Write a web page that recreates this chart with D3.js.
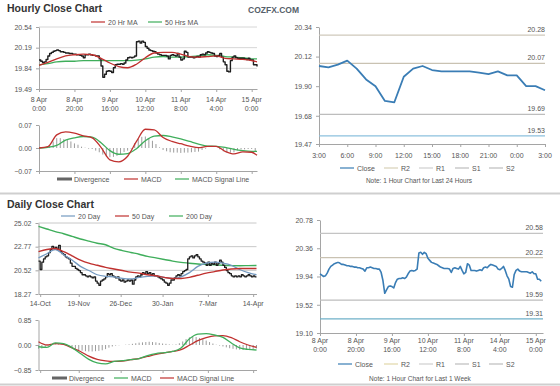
<!DOCTYPE html>
<html>
<head>
<meta charset="utf-8">
<script src="https://cdn.jsdelivr.net/npm/d3@7"></script>
<style>
  body { margin: 0; background: #fff; }
  svg text { font-family: "Liberation Sans", Arial, sans-serif; }
</style>
</head>
<body>
<svg id="chart" width="560" height="386"></svg>
<script>
// ---- hourly data (last week, trading hours from 8 Apr 0:00) ----
const hourlyClose = [
  19.98, 19.96, 19.94, 19.95, 19.99, 20.05, 20.09, 20.11, 20.13, 20.14,
  20.15, 20.14, 20.12, 20.12, 20.11, 20.10, 20.10, 20.09, 20.09, 20.08,
  20.08, 20.07, 20.07, 20.06, 20.05, 20.02, 20.07, 20.07, 20.08, 20.07,
  20.06, 20.06, 20.05, 20.05, 20.00, 19.88, 19.69, 19.74, 19.79, 19.80,
  19.79, 19.77, 19.85, 19.90, 19.91, 19.91, 19.92, 19.91, 19.93, 19.98,
  20.02, 20.03, 20.02, 20.03, 20.05, 20.29, 20.30, 20.27, 20.30, 20.28,
  20.21, 20.18, 20.15, 20.14, 20.13, 20.12, 20.10, 20.08, 20.07, 20.06,
  20.06, 20.06, 20.05, 20.00, 20.06, 20.07, 20.06, 20.05, 20.09, 20.03,
  19.98, 20.00, 20.13, 20.11, 20.03, 20.03, 20.03, 20.02, 20.03, 20.04,
  20.03, 20.07, 20.08, 20.07, 20.10, 20.12, 20.11, 20.10, 20.09, 20.05,
  20.04, 20.06, 20.09, 20.03, 19.95, 19.90, 19.79, 19.78, 19.97, 20.03,
  20.05, 20.02, 20.01, 20.01, 20.01, 20.01, 20.00, 19.99, 20.01, 19.98,
  19.98, 19.90, 19.90, 19.87
];
const hourTicks = [0, 20, 40, 60, 80, 100, 120];
const hourTickDay = ["8 Apr", "8 Apr", "9 Apr", "10 Apr", "11 Apr", "14 Apr", "15 Apr"];
const hourTickTime = ["0:00", "20:00", "16:00", "12:00", "8:00", "4:00", "0:00"];

const maHours = [0, 5, 10, 15, 20, 25, 30, 35, 40, 45, 50, 55, 60, 65, 70, 75, 80, 85, 90, 95, 100, 105, 110, 115, 120, 123];
const ma20Hr = [19.89, 19.94, 20.00, 20.05, 20.07, 20.08, 20.07, 20.01, 19.93, 19.87, 19.85, 19.91, 20.02,
  20.10, 20.11, 20.11, 20.08, 20.04, 20.03, 20.04, 20.05, 20.01, 20.00, 19.99, 19.97, 19.95];
const ma50Hr = [19.90, 19.92, 19.95, 19.96, 19.96, 19.97, 19.97, 19.97, 19.97, 19.97, 19.97, 19.98, 20.00,
  20.03, 20.04, 20.03, 20.03, 20.04, 20.05, 20.07, 20.06, 20.04, 20.03, 20.02, 20.00, 20.00];
const macdHr = [0, 0.004, 0.04, 0.049, 0.045, 0.037, 0.031, 0.002, -0.036, -0.042, -0.025, 0.02, 0.057,
  0.055, 0.032, 0.02, 0.013, 0.006, 0.001, 0.005, 0.005, -0.01, -0.018, -0.012, -0.013, -0.022];
const signalHr = [0, 0.002, 0.008, 0.024, 0.031, 0.035, 0.033, 0.016, -0.008, -0.019, -0.017, -0.002, 0.022,
  0.036, 0.038, 0.034, 0.028, 0.02, 0.012, 0.006, 0.005, 0.002, -0.004, -0.008, -0.01, -0.01];
const divHours = d3.range(0, 123, 2);
const divergenceHr = [
  0, 0.001, 0.002, 0.008, 0.02, 0.03, 0.03, 0.027, 0.024, 0.02,
  0.014, 0.01, 0.004, 0.001, -0.002, -0.003, -0.008, -0.013, -0.02, -0.026,
  -0.028, -0.027, -0.024, -0.018, -0.012, -0.008, -0.002, 0.015, 0.028, 0.034,
  0.035, 0.03, 0.022, 0.012, 0.002, -0.006, -0.01, -0.013, -0.014, -0.014,
  -0.015, -0.014, -0.014, -0.013, -0.012, -0.011, -0.006, -0.002, 0, 0,
  0, -0.004, -0.01, -0.014, -0.014, -0.013, -0.007, -0.004, -0.004, -0.003,
  -0.003, -0.01
];

// last 24 hours
const last24Close = hourlyClose.slice(99);
const last24Ticks = [0, 3, 6, 9, 12, 15, 18, 21, 24];
const last24Labels = ["3:00", "6:00", "9:00", "12:00", "15:00", "18:00", "21:00", "0:00", "3:00"];
const levelNames = ["R2", "R1", "S1", "S2"];
const levels24 = [20.28, 20.07, 19.69, 19.53];
const levelsWeek = [20.58, 20.22, 19.59, 19.31];

// ---- daily data (14-Oct .. 14-Apr) ----
const dailyClose = [
  21.4, 20.6, 21.3, 21.6, 21.8, 21.9, 22.2, 22.5, 22.8, 22.6,
  22.7, 22.5, 22.9, 22.3, 22.1, 22.0, 21.8, 21.7, 21.6, 21.2,
  20.9, 20.9, 20.7, 20.6, 20.5, 20.3, 20.1, 20.1, 20.0, 19.9,
  20.0, 19.9, 19.8, 19.9, 19.5, 19.3, 19.1, 19.5, 19.6, 19.7,
  19.9, 20.2, 20.1, 20.2, 20.0, 19.9, 19.8, 19.9, 19.6, 19.5,
  19.6, 19.4, 19.5, 19.6, 19.5, 19.6, 19.2, 19.6, 19.9, 20.0,
  19.9, 20.1, 20.3, 20.2, 20.4, 20.2, 20.3, 20.1, 20.2, 20.0,
  20.0, 19.9, 19.8, 19.7, 19.6, 19.4, 19.3, 19.1, 19.3, 19.6,
  19.6, 19.8, 20.0, 20.1, 20.0, 20.2, 20.4, 20.5, 20.6, 21.6,
  21.8, 21.9, 21.7, 21.9, 22.0, 21.8, 21.6, 21.4, 21.3, 21.2,
  21.0, 21.3, 21.0, 21.2, 21.1, 21.3, 21.0, 21.2, 21.5, 21.3,
  21.0, 20.8, 20.5, 20.3, 20.2, 20.0, 19.9, 20.0, 19.9, 20.0,
  19.9, 20.1, 20.0, 19.9, 20.0, 20.1, 20.0, 19.9, 20.0, 19.9,
  19.9
];
const dayTicks = [1, 24, 49, 74, 101, 128];
const dayTickLabels = ["14-Oct", "19-Nov", "26-Dec", "30-Jan", "7-Mar", "14-Apr"];
const maDays = d3.range(0, 131, 5);
const ma20Day = [21.7, 22.1, 22.5, 22.0, 21.5, 20.9, 20.5, 20.1, 19.95, 19.9, 19.75, 19.7, 19.85, 19.95,
  20.0, 19.85, 19.75, 19.9, 20.3, 20.9, 21.2, 21.3, 21.2, 21.0, 20.6, 20.3, 20.1];
const ma50Day = [22.3, 22.5, 22.6, 22.3, 21.9, 21.5, 21.2, 21.0, 20.8, 20.65, 20.5, 20.35, 20.25, 20.1,
  20.0, 19.85, 19.75, 19.75, 19.85, 20.05, 20.25, 20.4, 20.55, 20.65, 20.7, 20.7, 20.7];
const ma200Day = [24.7, 24.45, 24.2, 24.0, 23.75, 23.5, 23.3, 23.1, 22.95, 22.6, 22.4, 22.22, 22.05, 21.85,
  21.7, 21.55, 21.4, 21.28, 21.2, 21.12, 21.08, 21.05, 21.0, 20.97, 20.96, 20.97, 20.98];
const macdDay = [-0.06, -0.08, 0.07, 0.05, -0.09, -0.29, -0.49, -0.61, -0.64, -0.56, -0.53, -0.5, -0.46, -0.36,
  -0.29, -0.26, -0.22, -0.1, 0.21, 0.37, 0.39, 0.34, 0.26, 0.07, -0.1, -0.15, -0.17];
const signalDay = [0.11, 0.0, 0.05, 0.02, -0.1, -0.22, -0.38, -0.49, -0.54, -0.56, -0.55, -0.5, -0.46, -0.39,
  -0.32, -0.27, -0.22, -0.16, -0.01, 0.15, 0.25, 0.31, 0.32, 0.25, 0.11, 0.0, -0.08];
const divDays = d3.range(0, 131, 2);
const divergenceDay = [
  -0.13, -0.12, -0.07, -0.02, 0.01, 0.02, 0.02, 0.01, -0.02, -0.06,
  -0.1, -0.14, -0.17, -0.19, -0.21, -0.22, -0.22, -0.21, -0.2, -0.18,
  -0.14, -0.09, -0.05, -0.02, -0.01, 0.0, 0.01, 0.02, 0.04, 0.06,
  0.08, 0.09, 0.1, 0.11, 0.1, 0.09, 0.07, 0.05, 0.04, 0.02,
  0.01, 0.02, 0.06, 0.12, 0.2, 0.26, 0.28, 0.27, 0.24, 0.2,
  0.15, 0.1, 0.05, 0.01, -0.02, -0.05, -0.08, -0.11, -0.13, -0.15,
  -0.16, -0.17, -0.17, -0.16, -0.15, -0.12
];

const RED = '#c0312f', GREEN = '#3fae5b', BLUE = '#3a7db5', STEEL = '#7399c0';
const svg = d3.select('#chart');

function axisStyle(g) {
  g.select('.domain').attr('stroke', '#a5a5a5');
  g.selectAll('.tick line').attr('stroke', '#a5a5a5');
  g.selectAll('.tick text').attr('fill', '#555').style('font-size', '7px');
}

function yAxis(y, ticks, x0) {
  svg.append('g').attr('transform', `translate(${x0},0)`)
    .call(d3.axisLeft(y).tickValues(ticks).tickSize(3).tickSizeOuter(0).tickPadding(4).tickFormat(d3.format('.2f')))
    .call(axisStyle);
}

function xAxis(x, ticks, y0) {
  svg.append('g').attr('transform', `translate(0,${y0})`)
    .call(d3.axisBottom(x).tickValues(ticks).tickSize(3).tickSizeOuter(0).tickFormat(''))
    .call(axisStyle);
}

function grid(x, y, vals, color) {
  svg.append('g').selectAll('line').data(vals).join('line')
    .attr('x1', x.range()[0]).attr('x2', x.range()[1])
    .attr('y1', d => y(d)).attr('y2', d => y(d))
    .attr('stroke', color || '#d6d6d6').attr('stroke-width', 1);
}

function labelsBelow(x, ticks, lines, y0) {
  lines.forEach((arr, k) => {
    svg.append('g').selectAll('text').data(ticks).join('text')
      .attr('x', d => x(d)).attr('y', y0 + k * 8.5)
      .attr('text-anchor', 'middle').attr('fill', '#555').style('font-size', '7px')
      .text((d, i) => arr[i]);
  });
}

function drawLine(xs, ys, x, y, color, w, curve) {
  svg.append('path').datum(ys)
    .attr('fill', 'none').attr('stroke', color).attr('stroke-width', w)
    .attr('stroke-linejoin', 'round')
    .attr('d', d3.line().x((d, i) => x(xs[i])).y(d => y(d)).curve(curve || d3.curveMonotoneX));
}

function bars(xs, vals, x, y) {
  svg.append('g').selectAll('line').data(vals).join('line')
    .attr('x1', (d, i) => x(xs[i])).attr('x2', (d, i) => x(xs[i]))
    .attr('y1', y(0)).attr('y2', d => y(d))
    .attr('stroke', '#9c9c9c').attr('stroke-width', 1);
}

function legend(items, y) {
  items.forEach(it => {
    if (it.kind === 'bar') {
      svg.append('rect').attr('x', it.x).attr('y', y - 1.5).attr('width', 15).attr('height', 3).attr('fill', '#666');
    } else {
      svg.append('line').attr('x1', it.x).attr('x2', it.x + 14).attr('y1', y).attr('y2', y)
        .attr('stroke', it.color).attr('stroke-width', 1.2);
    }
    svg.append('text').attr('x', it.x + 17).attr('y', y + 2.5)
      .attr('fill', '#555').style('font-size', '7px').text(it.label);
  });
}

function levelLines(x, y, vals, colors) {
  vals.forEach((v, i) => {
    svg.append('line').attr('x1', x.range()[0]).attr('x2', x.range()[1])
      .attr('y1', y(v)).attr('y2', y(v)).attr('stroke', colors[i]).attr('stroke-width', 1.2);
    svg.append('text').attr('x', x.range()[1]).attr('y', y(v) - 3)
      .attr('text-anchor', 'end').attr('fill', '#555').style('font-size', '7px').text(v.toFixed(2));
  });
}

// ---- titles and separators ----
svg.append('text').attr('x', 7).attr('y', 12).text('Hourly Close Chart')
  .attr('fill', '#333').style('font-size', '10.5px').style('font-weight', 'bold');
svg.append('text').attr('x', 248).attr('y', 13).text('COZFX.COM')
  .attr('fill', '#56606a').style('font-size', '8.5px').style('font-weight', 'bold');
svg.append('text').attr('x', 7).attr('y', 208).text('Daily Close Chart')
  .attr('fill', '#333').style('font-size', '10.5px').style('font-weight', 'bold');
[193.5, 384.5].forEach(y => svg.append('line').attr('x1', 0).attr('x2', 560).attr('y1', y).attr('y2', y)
  .attr('stroke', '#cfcfcf').attr('stroke-width', 2));

// ---- hourly close (top left) ----
const x1 = d3.scaleLinear().domain([0, 123]).range([39, 257]);
const yP1 = d3.scaleLinear().domain([19.49, 20.54]).range([89, 27]);
const p1Ticks = [19.49, 19.84, 20.19, 20.54];
grid(x1, yP1, p1Ticks.slice(1));
yAxis(yP1, p1Ticks, 39);
xAxis(x1, hourTicks, 89);
labelsBelow(x1, hourTicks, [hourTickDay, hourTickTime], 102);
drawLine(maHours, ma50Hr, x1, yP1, GREEN, 1.3);
drawLine(hourlyClose.map((d, i) => i), hourlyClose, x1, yP1, '#1e1e1e', 1.4, d3.curveStepAfter);
drawLine(maHours, ma20Hr, x1, yP1, RED, 1.3);
legend([
  { x: 91, color: RED, label: '20 Hr MA' },
  { x: 148, color: GREEN, label: '50 Hrs MA' }
], 22);

// ---- hourly MACD ----
const yM1 = d3.scaleLinear().domain([-0.07, 0.07]).range([171, 125]);
yAxis(yM1, [-0.07, 0, 0.07], 39);
xAxis(x1, hourTicks, 171);
bars(divHours, divergenceHr, x1, yM1);
drawLine(maHours, signalHr, x1, yM1, GREEN, 1.3);
drawLine(maHours, macdHr, x1, yM1, RED, 1.3);
legend([
  { x: 57, kind: 'bar', label: 'Divergence' },
  { x: 124, color: RED, label: 'MACD' },
  { x: 175, color: GREEN, label: 'MACD Signal Line' }
], 179);

// ---- last 24 hours (top right) ----
const x2 = d3.scaleLinear().domain([0, 24]).range([319, 545]);
const y2 = d3.scaleLinear().domain([19.47, 20.34]).range([144, 27]);
yAxis(y2, [19.47, 19.68, 19.90, 20.12, 20.34], 319);
xAxis(x2, last24Ticks, 144);
labelsBelow(x2, last24Ticks, [last24Labels], 158);
levelLines(x2, y2, levels24, ['#cfc9bb', '#c9c2b2', '#bdbdbd', '#8cc1de']);
drawLine(last24Close.map((d, i) => i), last24Close, x2, y2, BLUE, 1.8, d3.curveLinear);
legend([
  { x: 340, color: BLUE, label: 'Close' },
  { x: 384, color: '#d8d0b8', label: 'R2' },
  { x: 419, color: '#cfcfcf', label: 'R1' },
  { x: 455, color: '#bdbdbd', label: 'S1' },
  { x: 489, color: '#bdbdbd', label: 'S2' }
], 168);
svg.append('text').attr('x', 419).attr('y', 183).attr('text-anchor', 'middle')
  .attr('fill', '#555').style('font-size', '6.5px').text('Note: 1 Hour Chart for Last 24 Hours');

// ---- daily close (bottom left) ----
const x3 = d3.scaleLinear().domain([0, 130]).range([38.5, 256.5]);
const y3 = d3.scaleLinear().domain([18.27, 25.02]).range([294, 223]);
const p3Ticks = [18.27, 20.52, 22.77, 25.02];
grid(x3, y3, p3Ticks.slice(1), '#c8c8c8');
yAxis(y3, p3Ticks, 38.5);
xAxis(x3, dayTicks, 294);
labelsBelow(x3, dayTicks, [dayTickLabels], 306);
drawLine(maDays, ma200Day, x3, y3, GREEN, 1.4);
drawLine(dailyClose.map((d, i) => i), dailyClose, x3, y3, '#1e1e1e', 1.3, d3.curveStepAfter);
drawLine(maDays, ma20Day, x3, y3, STEEL, 1.3);
drawLine(maDays, ma50Day, x3, y3, RED, 1.4);
legend([
  { x: 61, color: STEEL, label: '20 Day' },
  { x: 115, color: RED, label: '50 Day' },
  { x: 169, color: GREEN, label: '200 Day' }
], 216);

// ---- daily MACD ----
const yM2 = d3.scaleLinear().domain([-0.85, 0.85]).range([370, 320]);
yAxis(yM2, [-0.85, 0, 0.85], 38.5);
xAxis(x3, dayTicks, 370);
bars(divDays, divergenceDay, x3, yM2);
drawLine(maDays, signalDay, x3, yM2, RED, 1.3);
drawLine(maDays, macdDay, x3, yM2, GREEN, 1.3);
legend([
  { x: 52, kind: 'bar', label: 'Divergence' },
  { x: 114, color: GREEN, label: 'MACD' },
  { x: 160, color: RED, label: 'MACD Signal Line' }
], 378);

// ---- last week hourly (bottom right) ----
const x4 = d3.scaleLinear().domain([0, 124]).range([320, 543]);
const y4 = d3.scaleLinear().domain([19.10, 20.78]).range([333, 220]);
yAxis(y4, [19.10, 19.52, 19.94, 20.36, 20.78], 320);
xAxis(x4, hourTicks, 333);
labelsBelow(x4, hourTicks, [hourTickDay, hourTickTime], 343);
levelLines(x4, y4, levelsWeek, ['#c4c4c4', '#c9c2b2', '#bdbdbd', '#6fb0c8']);
drawLine(hourlyClose.map((d, i) => i), hourlyClose, x4, y4, BLUE, 1.6, d3.curveLinear);
legend([
  { x: 338, color: BLUE, label: 'Close' },
  { x: 384, color: '#e2d8a8', label: 'R2' },
  { x: 419, color: '#cfcfcf', label: 'R1' },
  { x: 455, color: '#bdbdbd', label: 'S1' },
  { x: 489, color: '#bdbdbd', label: 'S2' }
], 364);
svg.append('text').attr('x', 420).attr('y', 381).attr('text-anchor', 'middle')
  .attr('fill', '#555').style('font-size', '6.5px').text('Note: 1 Hour Chart for Last 1 Week');
</script>
</body>
</html>
